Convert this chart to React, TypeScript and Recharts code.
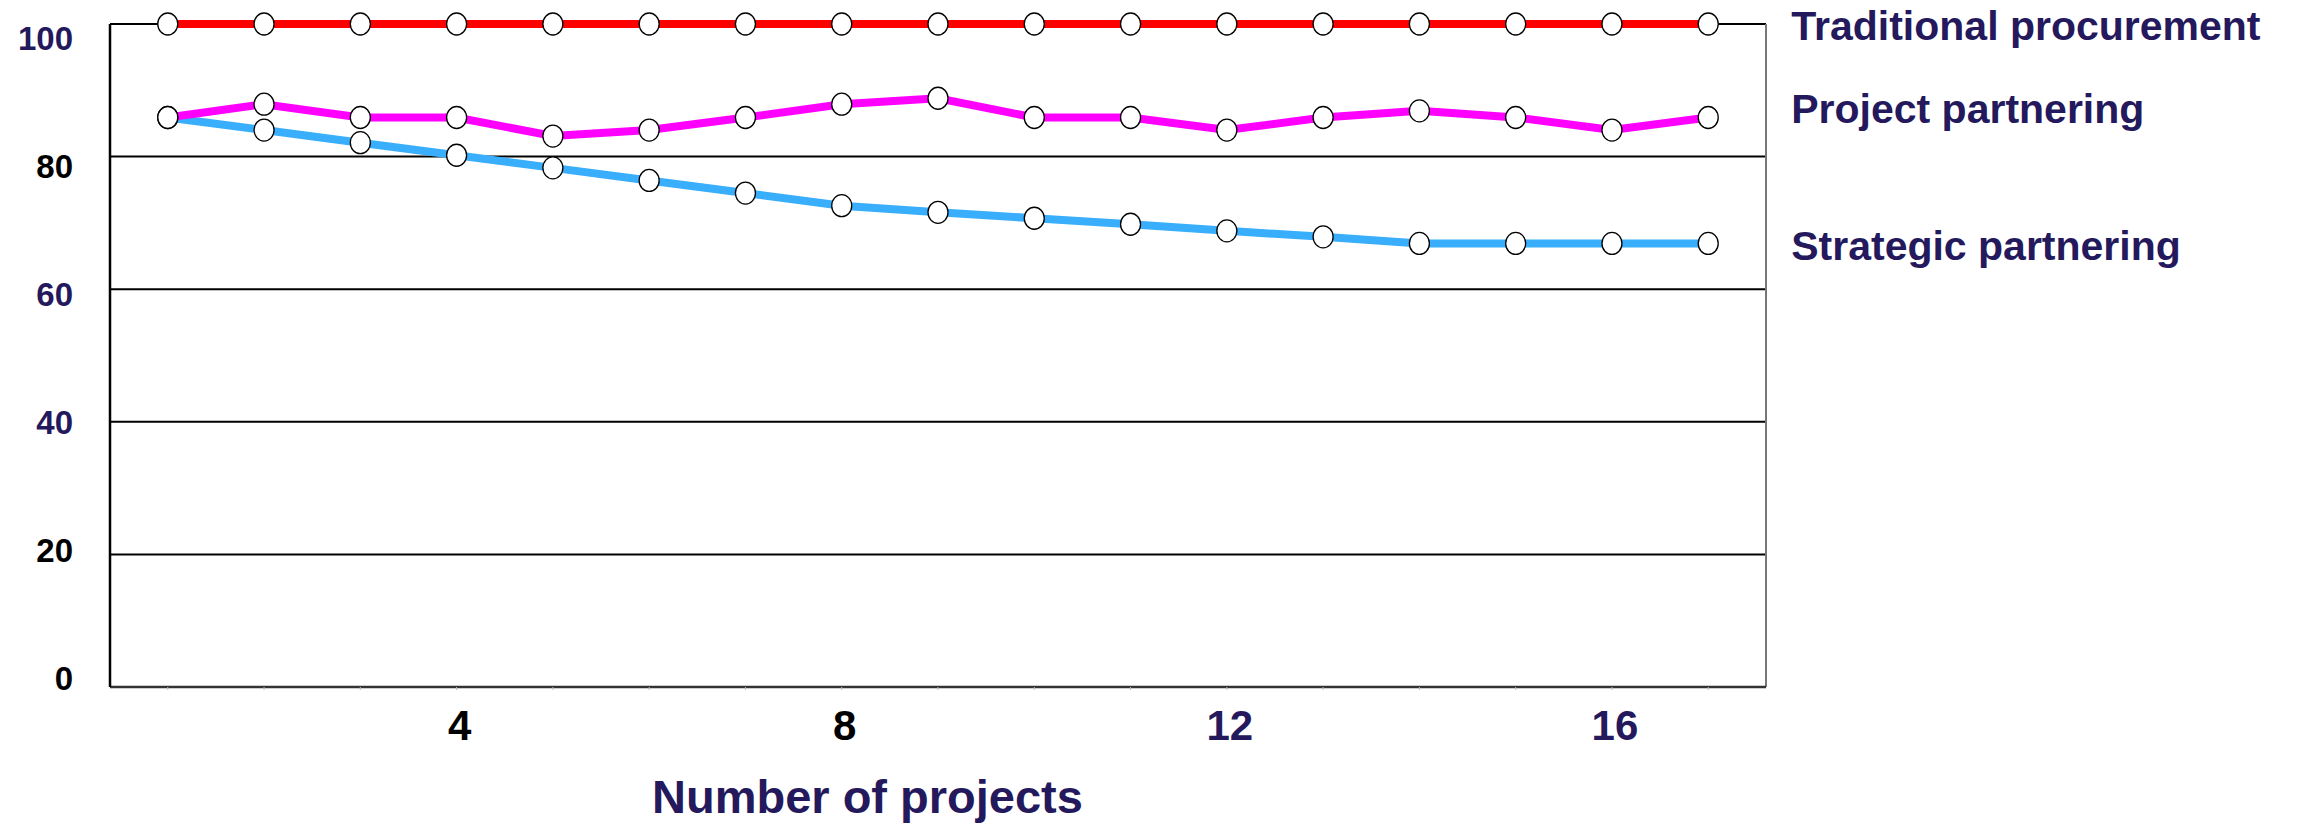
import React from 'react';
import { LineChart, Line, XAxis, YAxis, CartesianGrid, ReferenceLine, Label } from 'recharts';

const projects = [1, 2, 3, 4, 5, 6, 7, 8, 9, 10, 11, 12, 13, 14, 15, 16, 17];
const traditional = [100, 100, 100, 100, 100, 100, 100, 100, 100, 100, 100, 100, 100, 100, 100, 100, 100];
const projectPartnering = [85.9, 87.9, 85.9, 85.9, 83.1, 84.0, 85.9, 87.9, 88.8, 85.9, 85.9, 84.0, 85.9, 86.9, 85.9, 84.0, 85.9];
const strategicPartnering = [85.9, 84.0, 82.1, 80.2, 78.3, 76.4, 74.5, 72.6, 71.6, 70.7, 69.8, 68.8, 67.9, 66.9, 66.9, 66.9, 66.9];

const xTicks = [1, 2, 3, 4, 5, 6, 7, 8, 9, 10, 11, 12, 13, 14, 15, 16, 17];
const xLabels = [4, 8, 12, 16];
const yTicks = [0, 20, 40, 60, 80, 100];

const NAVY = '#24195c';
const FONT = '"Liberation Sans", Arial, Helvetica, sans-serif';

const yTickColor: Record<number, string> = { 100: NAVY, 80: '#000', 60: NAVY, 40: NAVY, 20: '#000', 0: '#000' };
const xTickColor: Record<number, string> = { 4: '#000', 8: '#000', 12: NAVY, 16: NAVY };

const data = projects.map((n, i) => ({
  n,
  traditional: traditional[i],
  project: projectPartnering[i],
  strategic: strategicPartnering[i],
}));

const YTick = (props: any) => {
  const { x, y, payload } = props;
  const v = payload.value;
  // labels sit a little below their gridline near the top, level near the bottom
  return (
    <text x={x} y={y + 3 + v * 0.23} textAnchor="end" fontFamily={FONT} fontWeight="bold" fontSize={33} fill={yTickColor[v]}>
      {v}
    </text>
  );
};

const XTick = (props: any) => {
  const { x, y, payload } = props;
  const v = payload.value;
  if (!xLabels.includes(v)) return null;
  return (
    <text x={x + 3} y={y + 50} textAnchor="middle" fontFamily={FONT} fontWeight="bold" fontSize={42} fill={xTickColor[v]}>
      {v}
    </text>
  );
};

const Dot = (props: any) => {
  const { cx, cy } = props;
  if (cx == null || cy == null) return null;
  return <ellipse cx={cx} cy={cy} rx={10} ry={11} fill="#fff" stroke="#000" strokeWidth={1.3} />;
};

const endLabel = (text: string, dy: number) => (props: any) => {
  if (props.index !== projects.length - 1) return null;
  const x = props.x ?? props.viewBox?.x;
  const y = props.y ?? props.viewBox?.y;
  return (
    <text x={x + 83} y={y + dy} fontFamily={FONT} fontWeight="bold" fontSize={41} fill={NAVY}>
      {text}
    </text>
  );
};

const AxisTitle = (props: any) => {
  const vb = props.viewBox;
  return (
    <text x={vb.x + vb.width * 0.4574} y={vb.y + 126} textAnchor="middle" fontFamily={FONT} fontWeight="bold" fontSize={47} fill={NAVY}>
      Number of projects
    </text>
  );
};

export default function App() {
  return (
    <div style={{ position: 'absolute', left: 0, top: 0, background: '#fff' }}>
      <LineChart width={2308} height={825} data={data} margin={{ top: 24, right: 542, bottom: 0, left: 0 }}>
        <CartesianGrid vertical={false} stroke="#000" strokeWidth={2} />
        <XAxis
          dataKey="n"
          type="number"
          domain={[0.4, 17.6]}
          ticks={xTicks}
          interval={0}
          height={138}
          axisLine={{ stroke: '#333', strokeWidth: 2.5 }}
          tickLine={{ stroke: '#bbb' }}
          tickSize={3}
          tickMargin={0}
          tick={<XTick />}
        >
          <Label content={<AxisTitle />} />
        </XAxis>
        <YAxis
          type="number"
          domain={[0, 100]}
          ticks={yTicks}
          width={110}
          axisLine={{ stroke: '#000', strokeWidth: 2.5 }}
          tickLine={false}
          tickSize={0}
          tickMargin={37}
          tick={<YTick />}
        />
        <ReferenceLine x={17.6} stroke="#777" strokeWidth={2} />
        <Line
          dataKey="strategic"
          stroke="#38aefc"
          strokeWidth={8}
          dot={<Dot />}
          isAnimationActive={false}
          label={endLabel('Strategic partnering', 17)}
        />
        <Line
          dataKey="project"
          stroke="#ff00ff"
          strokeWidth={8}
          dot={<Dot />}
          isAnimationActive={false}
          label={endLabel('Project partnering', 6)}
        />
        <Line
          dataKey="traditional"
          stroke="#ff0000"
          strokeWidth={8}
          dot={<Dot />}
          isAnimationActive={false}
          label={endLabel('Traditional procurement', 16)}
        />
      </LineChart>
    </div>
  );
}
